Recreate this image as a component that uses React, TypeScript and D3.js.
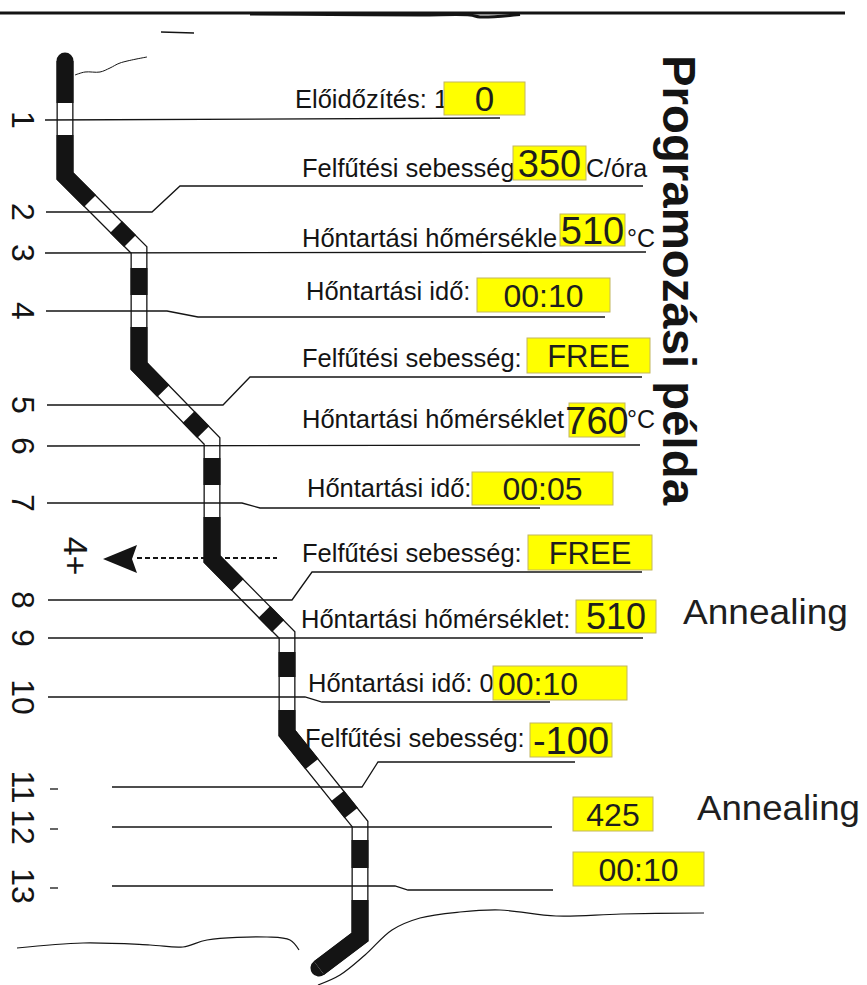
import React from 'react';
import * as d3 from 'd3';

// ---- content ----
const title = 'Programozási példa';
const stepNumbers = ['1', '2', '3', '4', '5', '6', '7', '8', '9', '10', '11', '12', '13'];
const stepLabels = [
  'Előidőzítés: 1',
  'Felfűtési sebesség',
  'Hőntartási hőmérsékle',
  'Hőntartási idő:',
  'Felfűtési sebesség:',
  'Hőntartási hőmérséklet',
  'Hőntartási idő:',
  'Felfűtési sebesség:',
  'Hőntartási hőmérséklet:',
  'Hőntartási idő: 0',
  'Felfűtési sebesség:',
  '',
  '',
];
const stepValues = ['0', '350', '510', '00:10', 'FREE', '760', '00:05', 'FREE', '510', '00:10', '-100', '425', '00:10'];
const stepUnits = ['', 'C/óra', '°C', '', '', '°C', '', '', '', '', '', '', ''];
const stepNotes = ['', '', '', '', '', '', '', '', 'Annealing', '', '', 'Annealing', ''];
const loopLabel = '4+';

// ---- layout (scan pixel coordinates) ----
const W = 867;
const H = 985;
const ink = '#141414';

const lineY = [120, 212, 253, 311, 405, 446, 503, 600, 638, 697, 787, 827, 886];
// leader: [xStart, xJog, jogWidth, yEnd, xEnd]  (xJog null = straight)
const leaders: [number, number | null, number, number, number][] = [
  [45, null, 0, 118, 500],
  [46, 152, 28, 186, 643],
  [45, null, 0, 252, 646],
  [46, 167, 31, 317, 605],
  [47, 223, 27, 377, 642],
  [47, null, 0, 445, 640],
  [47, 242, 18, 508, 540],
  [48, 292, 20, 572, 642],
  [48, null, 0, 638, 643],
  [48, 305, 17, 702, 550],
  [112, 362, 16, 762, 575],
  [112, null, 0, 827, 552],
  [112, 395, 13, 890, 553],
];
const labelX = [295, 302, 302, 306, 302, 302, 307, 302, 301, 308, 305, 0, 0];
const labelBase = [108, 177, 247, 300, 367, 428, 497, 562, 628, 692, 747, 0, 0];
const boxes = [
  [444, 82, 525, 115], [513, 146, 586, 180], [560, 214, 625, 246], [477, 278, 610, 312],
  [527, 338, 650, 373], [569, 403, 625, 437], [472, 472, 613, 505], [528, 535, 652, 570],
  [576, 600, 656, 633], [493, 666, 627, 700], [530, 723, 612, 757], [573, 797, 653, 831],
  [573, 852, 704, 886],
];
const valueFont = [35, 38, 38, 32, 31, 38, 32, 31, 36, 32, 38, 32, 32];
const unitPos: Record<number, [number, number]> = { 1: [586, 177], 2: [627, 247], 5: [627, 428] };
const notePos: Record<number, [number, number, number]> = { 8: [683, 624, 165], 11: [697, 820, 163] };

const pipe: [number, number][] = [
  [65, 61], [65, 176], [139, 250], [139, 366], [212, 441], [212, 559],
  [287, 635], [287, 733], [360, 824], [360, 937], [319, 968],
];
const blackBands: [number, number][] = [
  [61, 103], [135, 201], [227, 241], [268, 295], [327, 391], [417, 432], [458, 485],
  [517, 585], [612, 626], [652, 677], [710, 764], [796, 813], [840, 868], [900, 968],
];

const straight = d3.line();
const smooth = d3.line().curve(d3.curveCatmullRom.alpha(0.5));

function pointAtY(y: number): [number, number] {
  for (let i = 0; i < pipe.length - 1; i++) {
    const [x0, y0] = pipe[i];
    const [x1, y1] = pipe[i + 1];
    if (y >= y0 && y <= y1) {
      const t = (y - y0) / (y1 - y0);
      return [x0 + t * (x1 - x0), y];
    }
  }
  return pipe[pipe.length - 1];
}

function band(ya: number, yb: number): [number, number][] {
  return [pointAtY(ya), ...pipe.filter((p) => p[1] > ya && p[1] < yb), pointAtY(yb)];
}

function leaderPoints(i: number): [number, number][] {
  const [xs, xj, jw, ye, xe] = leaders[i];
  const y = lineY[i];
  if (xj === null) return [[xs, y], [xe, ye]];
  return [[xs, y], [xj, y], [xj + jw, ye], [xe, ye]];
}

const font = '"Liberation Sans", Arial, sans-serif';

export default function App() {
  return (
    <svg
      width={W}
      height={H}
      viewBox={`0 0 ${W} ${H}`}
      style={{ position: 'absolute', left: 0, top: 0, background: '#fff' }}
      fontFamily={font}
    >
      <rect width={W} height={H} fill="#fff" />

      {/* scan edge at the top */}
      <path d={straight([[0, 13], [845, 13]]) || ''} stroke={ink} strokeWidth={3} fill="none" />
      <path d={smooth([[250, 14], [330, 14.5], [420, 15], [470, 15], [480, 17], [520, 14.5]]) || ''} stroke={ink} strokeWidth={3} fill="none" />
      <path d={straight([[161, 32], [194, 33]]) || ''} stroke={ink} strokeWidth={1.5} fill="none" />
      <path d={smooth([[75, 75], [85, 72], [100, 72], [110, 68], [120, 63], [147, 57]]) || ''} stroke={ink} strokeWidth={1} fill="none" />

      {/* the pipe */}
      <path d={straight(pipe) || ''} stroke={ink} strokeWidth={17} fill="none" strokeLinecap="round" strokeLinejoin="miter" />
      <path d={straight(pipe) || ''} stroke="#fff" strokeWidth={14.4} fill="none" strokeLinecap="butt" strokeLinejoin="miter" />
      {blackBands.map(([a, b], i) => (
        <path key={i} d={straight(band(a, b)) || ''} stroke={ink} strokeWidth={17} fill="none" strokeLinejoin="miter" />
      ))}

      {/* loop arrow */}
      <path d={straight([[137, 558], [277, 558]]) || ''} stroke={ink} strokeWidth={2} strokeDasharray="5 3" fill="none" />
      <path d="M103,559 L137,545 L132,559 L137,573 Z" fill={ink} />
      <text transform="translate(64,556) rotate(90)" textAnchor="middle" fontSize={34} fill={ink}>{loopLabel}</text>

      {/* leader lines and numbers */}
      {stepNumbers.map((n, i) => (
        <g key={n}>
          <path d={straight(leaderPoints(i)) || ''} stroke={ink} strokeWidth={1.3} fill="none" />
          <text transform={`translate(12,${lineY[i]}) rotate(90)`} textAnchor="middle" fontSize={32} fill={ink}>{n}</text>
          {i >= 10 && <path d={straight([[50, lineY[i] + 2], [58, lineY[i] + 2]]) || ''} stroke={ink} strokeWidth={1.3} />}
        </g>
      ))}

      {/* labels */}
      {stepLabels.map((t, i) =>
        t ? (
          <text key={i} x={labelX[i]} y={labelBase[i]} fontSize={25.5} fill={ink}>{t}</text>
        ) : null
      )}

      {/* yellow value boxes */}
      {stepValues.map((v, i) => {
        const [x0, y0, x1, y1] = boxes[i];
        const f = valueFont[i];
        const left = i === 9;
        return (
          <g key={i}>
            <rect x={x0} y={y0} width={x1 - x0} height={y1 - y0} fill="#ffff00" stroke="#c2b660" strokeWidth={1} />
            <text
              x={left ? x0 + 5 : (x0 + x1) / 2}
              y={(y0 + y1) / 2 + f * 0.36}
              textAnchor={left ? 'start' : 'middle'}
              fontSize={f}
              fill="#1e1e1e"
            >
              {v}
            </text>
          </g>
        );
      })}

      {stepUnits.map((u, i) =>
        u ? (
          <text key={i} x={unitPos[i][0]} y={unitPos[i][1]} fontSize={25} fill={ink}>{u}</text>
        ) : null
      )}

      {stepNotes.map((n, i) =>
        n ? (
          <text key={i} x={notePos[i][0]} y={notePos[i][1]} fontSize={35} textLength={notePos[i][2]} lengthAdjust="spacingAndGlyphs" fill="#1e1e1e">{n}</text>
        ) : null
      )}

      {/* title */}
      <text transform="translate(663,55) rotate(90)" fontSize={46} fontWeight="bold" textLength={450} lengthAdjust="spacingAndGlyphs" fill={ink}>{title}</text>

      {/* scan edges at the bottom */}
      <path d={smooth([[17, 948], [83, 943], [150, 945], [183, 947], [207, 940], [267, 937], [290, 940], [299, 950]]) || ''} stroke={ink} strokeWidth={1.2} fill="none" />
      <path d={smooth([[318, 985], [340, 975], [365, 955], [392, 930], [420, 918], [460, 912], [500, 910], [556, 916], [621, 914], [704, 913]]) || ''} stroke={ink} strokeWidth={1.2} fill="none" />
    </svg>
  );
}
